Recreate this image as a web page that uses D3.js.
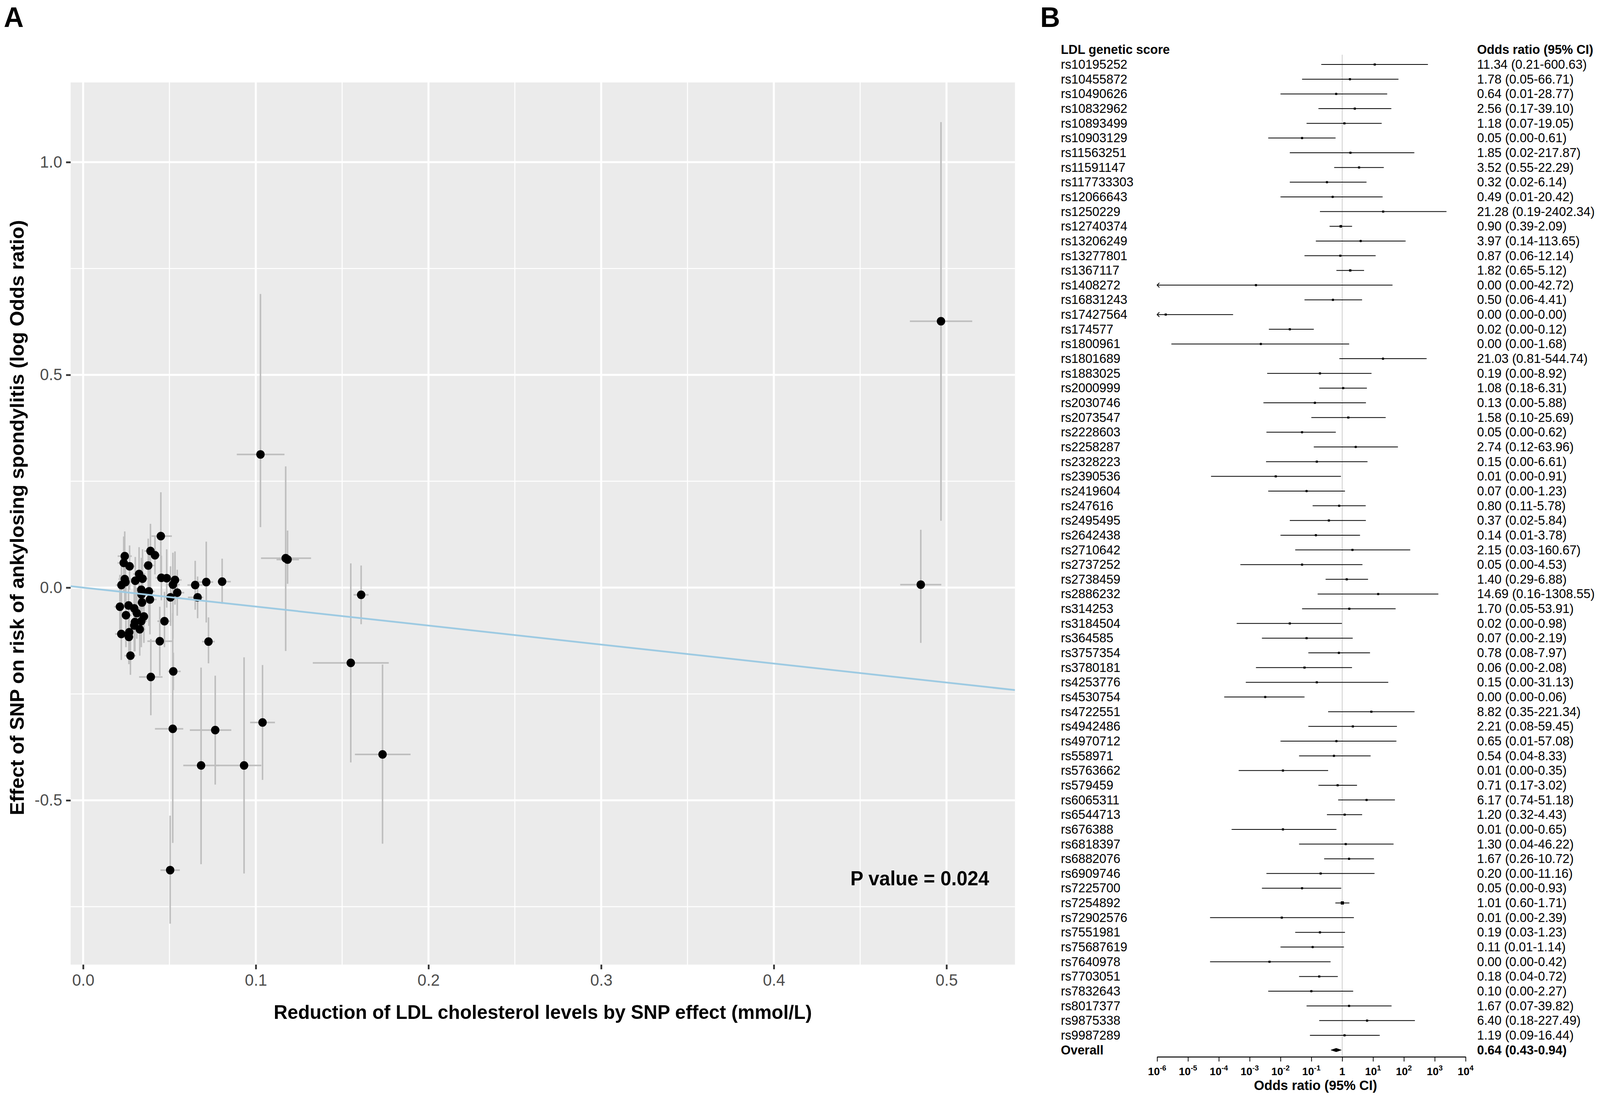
<!DOCTYPE html>
<html>
<head>
<meta charset="utf-8">
<script src="https://cdnjs.cloudflare.com/ajax/libs/d3/7.8.5/d3.min.js"></script>
<style>
  html, body { margin: 0; padding: 0; background: #fff; overflow: hidden; }
  .canvas { width: 100vw; height: 100vh; }
  svg { display: block; width: 100%; height: 100%; font-family: "Liberation Sans", Arial, Helvetica, sans-serif; }
</style>
</head>
<body>
<div class="canvas"></div>
<script>
/////////////////////////////////
//** PANEL A DATA (one entry per SNP) **//

// reduction of LDL by SNP (x) and its 95% CI
const ldlEffect = [0.0450, 0.0390, 0.0416, 0.0241, 0.0235, 0.0269, 0.0377, 0.0241, 0.0222, 0.0245,
                   0.0324, 0.0344, 0.0302, 0.0337, 0.0381, 0.0338, 0.0387, 0.0341, 0.0453, 0.0484,
                   0.0532, 0.0520, 0.0545, 0.0506, 0.0649, 0.0713, 0.0805, 0.0663, 0.0213, 0.0263,
                   0.0296, 0.0311, 0.0248, 0.0352, 0.0300, 0.0337, 0.0296, 0.0328, 0.0221, 0.0267,
                   0.0265, 0.0274, 0.0471, 0.0444, 0.0726, 0.0392, 0.0522, 0.0519, 0.0683, 0.0765,
                   0.0932, 0.1039, 0.0504, 0.1027, 0.1173, 0.1184, 0.1610, 0.1550, 0.1734, 0.4968,
                   0.4851];
const ldlLow    = [0.0396, 0.0355, 0.0385, 0.0200, 0.0200, 0.0235, 0.0340, 0.0205, 0.0190, 0.0210,
                   0.0290, 0.0310, 0.0270, 0.0305, 0.0345, 0.0305, 0.0350, 0.0310, 0.0420, 0.0450,
                   0.0495, 0.0480, 0.0505, 0.0470, 0.0604, 0.0665, 0.0779, 0.0607, 0.0180, 0.0230,
                   0.0265, 0.0280, 0.0215, 0.0320, 0.0270, 0.0305, 0.0265, 0.0295, 0.0185, 0.0235,
                   0.0230, 0.0240, 0.0430, 0.0372, 0.0689, 0.0324, 0.0491, 0.0416, 0.0580, 0.0618,
                   0.0770, 0.0967, 0.0448, 0.0890, 0.1030, 0.1120, 0.1566, 0.1330, 0.1574, 0.4788,
                   0.4732];
const ldlHigh   = [0.0514, 0.0425, 0.0450, 0.0282, 0.0270, 0.0305, 0.0415, 0.0280, 0.0255, 0.0280,
                   0.0360, 0.0380, 0.0335, 0.0370, 0.0415, 0.0370, 0.0425, 0.0375, 0.0490, 0.0520,
                   0.0570, 0.0560, 0.0585, 0.0545, 0.0694, 0.0753, 0.0855, 0.0696, 0.0250, 0.0300,
                   0.0330, 0.0345, 0.0280, 0.0385, 0.0330, 0.0370, 0.0330, 0.0360, 0.0255, 0.0300,
                   0.0300, 0.0305, 0.0510, 0.0517, 0.0762, 0.0460, 0.0565, 0.0580, 0.0789, 0.0858,
                   0.1032, 0.1111, 0.0560, 0.1166, 0.1320, 0.1250, 0.1653, 0.1770, 0.1896, 0.5149,
                   0.4970];

// SNP effect on ankylosing spondylitis (log OR, y) and its 95% CI
const asEffect  = [0.121, 0.086, 0.076, 0.074, 0.058, 0.050, 0.052, 0.020, 0.006, 0.013,
                   0.032, 0.021, 0.016, -0.005, -0.009, -0.016, -0.028, -0.035, 0.023, 0.022,
                   0.018, 0.007, -0.012, -0.023, 0.006, 0.013, 0.014, -0.023, -0.045, -0.042,
                   -0.049, -0.060, -0.065, -0.068, -0.081, -0.079, -0.089, -0.098, -0.109, -0.105,
                   -0.116, -0.160, -0.079, -0.126, -0.127, -0.210, -0.197, -0.332, -0.418, -0.335,
                   -0.418, -0.317, -0.664, 0.313, 0.069, 0.066, -0.017, -0.177, -0.392, 0.626,
                   0.007];
const asLow     = [0.020, -0.020, 0.031, 0.010, -0.010, -0.005, -0.010, -0.040, -0.060, -0.050,
                   -0.030, -0.050, -0.040, -0.080, -0.090, -0.085, -0.110, -0.100, -0.030, -0.047,
                   -0.040, -0.120, -0.066, -0.090, -0.052, -0.082, -0.038, -0.072, -0.110, -0.100,
                   -0.110, -0.120, -0.140, -0.130, -0.150, -0.140, -0.150, -0.160, -0.170, -0.160,
                   -0.180, -0.205, -0.140, -0.207, -0.178, -0.300, -0.241, -0.600, -0.650, -0.463,
                   -0.672, -0.452, -0.790, 0.142, -0.149, 0.009, -0.086, -0.411, -0.602, 0.157,
                   -0.130];
const asHigh    = [0.224, 0.150, 0.120, 0.132, 0.120, 0.099, 0.115, 0.080, 0.070, 0.075,
                   0.095, 0.090, 0.072, 0.070, 0.075, 0.055, 0.055, 0.030, 0.075, 0.090,
                   0.085, 0.082, 0.042, 0.050, 0.063, 0.108, 0.068, 0.026, 0.030, 0.020,
                   0.010, 0.000, 0.010, -0.005, -0.010, -0.020, -0.030, -0.040, -0.040, -0.050,
                   -0.060, -0.110, -0.010, -0.045, -0.070, -0.121, -0.153, -0.060, -0.188, -0.207,
                   -0.164, -0.182, -0.536, 0.690, 0.285, 0.134, 0.052, 0.057, -0.181, 1.094,
                   0.136];

const xTicksA = [0, 0.1, 0.2, 0.3, 0.4, 0.5];
const xMinorA = [0.05, 0.15, 0.25, 0.35, 0.45];
const yTicksA = [-0.5, 0, 0.5, 1.0];
const yMinorA = [-0.75, -0.25, 0.25, 0.75];

/////////////////////////////////
//** PANEL B DATA **//

const snpNames = ["rs10195252","rs10455872","rs10490626","rs10832962","rs10893499","rs10903129","rs11563251","rs11591147","rs117733303","rs12066643",
                  "rs1250229","rs12740374","rs13206249","rs13277801","rs1367117","rs1408272","rs16831243","rs17427564","rs174577","rs1800961",
                  "rs1801689","rs1883025","rs2000999","rs2030746","rs2073547","rs2228603","rs2258287","rs2328223","rs2390536","rs2419604",
                  "rs247616","rs2495495","rs2642438","rs2710642","rs2737252","rs2738459","rs2886232","rs314253","rs3184504","rs364585",
                  "rs3757354","rs3780181","rs4253776","rs4530754","rs4722551","rs4942486","rs4970712","rs558971","rs5763662","rs579459",
                  "rs6065311","rs6544713","rs676388","rs6818397","rs6882076","rs6909746","rs7225700","rs7254892","rs72902576","rs7551981",
                  "rs75687619","rs7640978","rs7703051","rs7832643","rs8017377","rs9875338","rs9987289"];
const oddsRatio = [11.34, 1.78, 0.64, 2.56, 1.18, 0.05, 1.85, 3.52, 0.32, 0.49,
                   21.28, 0.90, 3.97, 0.87, 1.82, 0.0016, 0.50, 0.0000019, 0.02, 0.0023,
                   21.03, 0.19, 1.08, 0.13, 1.58, 0.05, 2.74, 0.15, 0.007, 0.07,
                   0.80, 0.37, 0.14, 2.15, 0.05, 1.40, 14.69, 1.70, 0.02, 0.07,
                   0.78, 0.06, 0.15, 0.0032, 8.82, 2.21, 0.65, 0.54, 0.012, 0.71,
                   6.17, 1.20, 0.012, 1.30, 1.67, 0.20, 0.05, 1.01, 0.011, 0.19,
                   0.11, 0.0044, 0.18, 0.10, 1.67, 6.40, 1.19];
const ciLow     = [0.21, 0.05, 0.01, 0.17, 0.07, 0.004, 0.02, 0.55, 0.02, 0.01,
                   0.19, 0.39, 0.14, 0.06, 0.65, 0.0000003, 0.06, 0.0000003, 0.0042, 0.0000029,
                   0.81, 0.0037, 0.18, 0.0028, 0.10, 0.0035, 0.12, 0.0034, 0.000056, 0.004,
                   0.11, 0.02, 0.01, 0.03, 0.0005, 0.29, 0.16, 0.05, 0.00038, 0.0025,
                   0.08, 0.0016, 0.00075, 0.00015, 0.35, 0.08, 0.01, 0.04, 0.00044, 0.17,
                   0.74, 0.32, 0.00026, 0.04, 0.26, 0.0035, 0.0025, 0.60, 0.000052, 0.03,
                   0.01, 0.000052, 0.04, 0.004, 0.07, 0.18, 0.09];
const ciHigh    = [600.63, 66.71, 28.77, 39.10, 19.05, 0.61, 217.87, 22.29, 6.14, 20.42,
                   2402.34, 2.09, 113.65, 12.14, 5.12, 42.72, 4.41, 0.00029, 0.12, 1.68,
                   544.74, 8.92, 6.31, 5.88, 25.69, 0.62, 63.96, 6.61, 0.91, 1.23,
                   5.78, 5.84, 3.78, 160.67, 4.53, 6.88, 1308.55, 53.91, 0.98, 2.19,
                   7.97, 2.08, 31.13, 0.06, 221.34, 59.45, 57.08, 8.33, 0.35, 3.02,
                   51.18, 4.43, 0.65, 46.22, 10.72, 11.16, 0.93, 1.71, 2.39, 1.23,
                   1.14, 0.42, 0.72, 2.27, 39.82, 227.49, 16.44];

// overall estimate: OR, lower, upper
const overallOR = [0.64, 0.43, 0.94];
const forestExponents = [-6, -5, -4, -3, -2, -1, 0, 1, 2, 3, 4];

/////////////////////////////////
//** SVG CONTAINER **//

// drawn in a 4190 x 2813 coordinate space, stretched to fill the window
const W = 4190, H = 2813;
const svg = d3.select('.canvas')
  .append('svg')
  .attr('viewBox', `0 0 ${W} ${H}`)
  .attr('preserveAspectRatio', 'none');

svg.append('rect').attr('width', W).attr('height', H).attr('fill', '#fff');

const fmt = d => d.toFixed(2);

/////////////////////////////////
//** PANEL A: SCATTER **//

const pa = { left: 185, right: 2658, top: 211, bottom: 2469 };

const x = d3.scaleLinear().domain([-0.00723, 0.53966]).range([pa.left, pa.right]);
const y = d3.scaleLinear().domain([-0.8861, 1.1873]).range([pa.bottom, pa.top]);

svg.append('defs').append('clipPath').attr('id', 'clipA')
  .append('rect')
  .attr('x', pa.left).attr('y', pa.top)
  .attr('width', pa.right - pa.left).attr('height', pa.bottom - pa.top);

const gA = svg.append('g');

gA.append('rect')
  .attr('x', pa.left).attr('y', pa.top)
  .attr('width', pa.right - pa.left).attr('height', pa.bottom - pa.top)
  .attr('fill', '#EBEBEB');

// grid lines
gA.selectAll('.gx-minor').data(xMinorA).enter().append('line')
  .attr('x1', d => x(d)).attr('x2', d => x(d))
  .attr('y1', pa.top).attr('y2', pa.bottom)
  .attr('stroke', '#fff').attr('stroke-width', 2.6);
gA.selectAll('.gy-minor').data(yMinorA).enter().append('line')
  .attr('y1', d => y(d)).attr('y2', d => y(d))
  .attr('x1', pa.left).attr('x2', pa.right)
  .attr('stroke', '#fff').attr('stroke-width', 2.6);
gA.selectAll('.gx-major').data(xTicksA).enter().append('line')
  .attr('x1', d => x(d)).attr('x2', d => x(d))
  .attr('y1', pa.top).attr('y2', pa.bottom)
  .attr('stroke', '#fff').attr('stroke-width', 5.2);
gA.selectAll('.gy-major').data(yTicksA).enter().append('line')
  .attr('y1', d => y(d)).attr('y2', d => y(d))
  .attr('x1', pa.left).attr('x2', pa.right)
  .attr('stroke', '#fff').attr('stroke-width', 5.2);

// axes
const xAxisA = d3.axisBottom(x).tickValues(xTicksA).tickSize(12).tickPadding(12)
  .tickFormat(d => d.toFixed(1));
const yAxisA = d3.axisLeft(y).tickValues(yTicksA).tickSize(12).tickPadding(10)
  .tickFormat(d => d.toFixed(1));

const styleAxisA = g => {
  g.select('.domain').remove();
  g.selectAll('.tick line').attr('stroke', '#333333').attr('stroke-width', 4.5);
  g.selectAll('.tick text').attr('fill', '#4D4D4D').attr('font-size', 42)
    .attr('font-family', '"Liberation Sans", Arial, sans-serif');
};

gA.append('g').attr('transform', `translate(0,${pa.bottom})`).call(xAxisA).call(styleAxisA);
gA.append('g').attr('transform', `translate(${pa.left},0)`).call(yAxisA).call(styleAxisA);

// marks
const marks = gA.append('g').attr('clip-path', 'url(#clipA)');
const idx = d3.range(ldlEffect.length);

marks.selectAll('.ebx').data(idx).enter().append('line')
  .attr('x1', i => x(ldlLow[i])).attr('x2', i => x(ldlHigh[i]))
  .attr('y1', i => y(asEffect[i])).attr('y2', i => y(asEffect[i]))
  .attr('stroke', '#BEBEBE').attr('stroke-width', 4);

marks.selectAll('.eby').data(idx).enter().append('line')
  .attr('x1', i => x(ldlEffect[i])).attr('x2', i => x(ldlEffect[i]))
  .attr('y1', i => y(asLow[i])).attr('y2', i => y(asHigh[i]))
  .attr('stroke', '#BEBEBE').attr('stroke-width', 4);

marks.selectAll('.pt').data(idx).enter().append('circle')
  .attr('cx', i => x(ldlEffect[i])).attr('cy', i => y(asEffect[i]))
  .attr('r', 11).attr('fill', '#000');

// IVW line through origin, slope = log(overall OR)
const slope = Math.log(overallOR[0]);
const ivw = d3.line().x(d => x(d)).y(d => y(slope * d));
marks.append('path')
  .attr('d', ivw(x.domain()))
  .attr('fill', 'none').attr('stroke', '#9DCAE2').attr('stroke-width', 4.5);

// annotation + titles
gA.append('text')
  .attr('x', 2227).attr('y', 2266)
  .attr('font-size', 51).attr('font-weight', 'bold')
  .text('P value = 0.024');

gA.append('text')
  .attr('x', (pa.left + pa.right) / 2).attr('y', 2608)
  .attr('text-anchor', 'middle').attr('font-size', 50).attr('font-weight', 'bold')
  .text('Reduction of LDL cholesterol levels by SNP effect (mmol/L)');

gA.append('text')
  .attr('transform', `translate(62,1325) rotate(-90)`)
  .attr('text-anchor', 'middle').attr('font-size', 51).attr('font-weight', 'bold')
  .text('Effect of SNP on risk of ankylosing spondylitis (log Odds ratio)');

// panel letters
svg.append('text').attr('x', 10).attr('y', 69)
  .attr('font-size', 72).attr('font-weight', 'bold').text('A');

/////////////////////////////////
//** PANEL B: FOREST PLOT **//

svg.append('text').attr('x', 2724).attr('y', 69)
  .attr('font-size', 72).attr('font-weight', 'bold').text('B');

const fx = d3.scaleLog().domain([1e-6, 1e4]).range([3030.2, 3838]);
const rowY = i => 165.1 + i * 37.65;
const labelX = 2778, orTextX = 3868;
const nRows = snpNames.length;
const axisY = 2705;

const gB = svg.append('g').attr('font-size', 33);

// headers
gB.append('text').attr('x', labelX).attr('y', rowY(-1) + 11)
  .attr('font-weight', 'bold').text('LDL genetic score');
gB.append('text').attr('x', orTextX).attr('y', rowY(-1) + 11)
  .attr('font-weight', 'bold').text('Odds ratio (95% CI)');

// reference line at OR = 1
gB.append('line')
  .attr('x1', fx(1)).attr('x2', fx(1))
  .attr('y1', 140).attr('y2', axisY)
  .attr('stroke', '#D0D0D0').attr('stroke-width', 2.2);

const rows = d3.range(nRows);

gB.selectAll('.lab').data(rows).enter().append('text')
  .attr('x', labelX).attr('y', i => rowY(i) + 11)
  .text(i => snpNames[i]);

gB.selectAll('.ortext').data(rows).enter().append('text')
  .attr('x', orTextX).attr('y', i => rowY(i) + 11)
  .text(i => `${fmt(oddsRatio[i])} (${fmt(ciLow[i])}-${fmt(ciHigh[i])})`);

const clampF = v => Math.max(1e-6, Math.min(1e4, v));

gB.selectAll('.ci').data(rows).enter().append('line')
  .attr('x1', i => fx(clampF(ciLow[i]))).attr('x2', i => fx(clampF(ciHigh[i])))
  .attr('y1', i => rowY(i)).attr('y2', i => rowY(i))
  .attr('stroke', '#000').attr('stroke-width', 2);

// arrow heads where the CI runs past the left edge
gB.selectAll('.arrow').data(rows.filter(i => ciLow[i] < 1e-6)).enter().append('path')
  .attr('d', i => {
    const x0 = fx(1e-6), yy = rowY(i);
    return `M${x0 + 6},${yy - 6}L${x0},${yy}L${x0 + 6},${yy + 6}`;
  })
  .attr('fill', 'none').attr('stroke', '#000').attr('stroke-width', 2);

// boxes sized by inverse variance
const boxSize = i => {
  const se = (Math.log(ciHigh[i]) - Math.log(ciLow[i])) / 3.92;
  return Math.max(5.5, Math.min(11, 3.5 + 1.3 * Math.sqrt(1 / (se * se))));
};
gB.selectAll('.box').data(rows).enter().append('rect')
  .attr('x', i => fx(clampF(oddsRatio[i])) - boxSize(i) / 2)
  .attr('y', i => rowY(i) - boxSize(i) / 2)
  .attr('width', boxSize).attr('height', boxSize)
  .attr('fill', '#000');

// overall row
const oy = rowY(nRows);
gB.append('text').attr('x', labelX).attr('y', oy + 11)
  .attr('font-weight', 'bold').text('Overall');
gB.append('text').attr('x', orTextX).attr('y', oy + 11)
  .attr('font-weight', 'bold')
  .text(`${fmt(overallOR[0])} (${fmt(overallOR[1])}-${fmt(overallOR[2])})`);
gB.append('path')
  .attr('d', `M${fx(overallOR[1])},${oy}L${fx(overallOR[0])},${oy - 4.5}L${fx(overallOR[2])},${oy}L${fx(overallOR[0])},${oy + 4.5}Z`)
  .attr('fill', '#000').attr('stroke', '#000').attr('stroke-width', 1);

// x axis
const fAxis = d3.axisBottom(fx)
  .tickValues(forestExponents.map(e => Math.pow(10, e)))
  .tickSize(12).tickSizeOuter(0).tickFormat('');
const gFA = gB.append('g').attr('transform', `translate(0,${axisY})`).call(fAxis);
gFA.select('.domain').attr('stroke', '#000').attr('stroke-width', 2.5);
gFA.selectAll('.tick line').attr('stroke', '#000').attr('stroke-width', 2);

const tickLab = gB.selectAll('.flab').data(forestExponents).enter().append('text')
  .attr('x', e => fx(Math.pow(10, e)))
  .attr('y', axisY + 47)
  .attr('text-anchor', 'middle')
  .attr('font-size', 28).attr('font-weight', 'bold');
tickLab.append('tspan').text(e => e === 0 ? '1' : '10');
tickLab.filter(e => e !== 0).append('tspan')
  .attr('font-size', 19).attr('dy', -12)
  .text(e => String(e));

gB.append('text')
  .attr('x', 3445).attr('y', 2790)
  .attr('text-anchor', 'middle').attr('font-weight', 'bold').attr('font-size', 35)
  .text('Odds ratio (95% CI)');
</script>
</body>
</html>
